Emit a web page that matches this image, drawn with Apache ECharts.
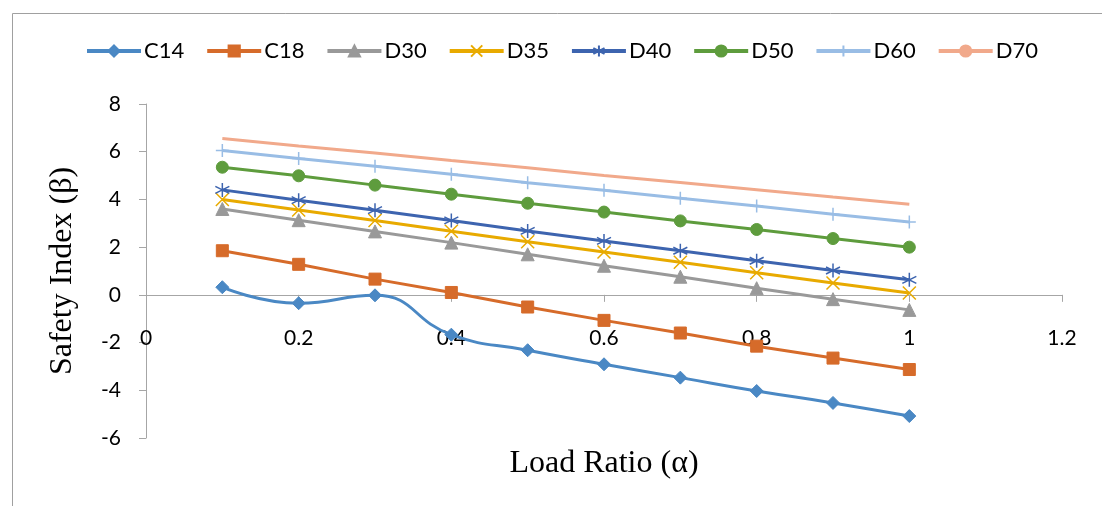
<!DOCTYPE html>
<html>
<head>
<meta charset="utf-8">
<title>Safety Index vs Load Ratio</title>
<script src="https://cdn.jsdelivr.net/npm/echarts@6/dist/echarts.min.js"></script>
<style>
  html, body { margin: 0; padding: 0; background: #fff; }
  #chart { width: 1102px; height: 506px; }
</style>
</head>
<body>
<div id="chart"></div>
<script>
// Load ratio values (α) shared by all series
const loadRatio = [0.1, 0.2, 0.3, 0.4, 0.5, 0.6, 0.7, 0.8, 0.9, 1.0];

// Safety index (β) for each timber strength class
const C14 = [0.32, -0.35, -0.02, -1.67, -2.32, -2.91, -3.47, -4.03, -4.53, -5.08];
const C18 = [1.85, 1.28, 0.66, 0.10, -0.51, -1.07, -1.60, -2.15, -2.65, -3.13];
const D30 = [3.60, 3.13, 2.66, 2.19, 1.70, 1.22, 0.76, 0.28, -0.18, -0.63];
const D35 = [4.00, 3.56, 3.12, 2.67, 2.23, 1.80, 1.37, 0.93, 0.50, 0.08];
const D40 = [4.40, 3.97, 3.55, 3.12, 2.68, 2.26, 1.85, 1.43, 1.02, 0.63];
const D50 = [5.35, 4.99, 4.60, 4.22, 3.84, 3.47, 3.10, 2.74, 2.36, 2.00];
const D60 = [6.05, 5.72, 5.39, 5.06, 4.70, 4.38, 4.05, 3.72, 3.38, 3.05];
const D70 = [6.55, 6.24, 5.95, 5.63, 5.33, 5.00, 4.71, 4.41, 4.10, 3.80];

// Axis ticks
const xTicks = { min: 0, max: 1.2, step: 0.2 };
const yTicks = { min: -6, max: 8, step: 2 };

const seriesDefs = [
  { name: 'C14', values: C14, color: '#4A88C4', symbol: 'diamond', size: 13, smooth: true },
  { name: 'C18', values: C18, color: '#D66B2A', symbol: 'rect', size: 12 },
  { name: 'D30', values: D30, color: '#999999', symbol: 'triangle', size: 13 },
  { name: 'D35', values: D35, color: '#E8AA00', symbol: 'path://M0,0L10,10M0,10L10,0', size: 13, stroke: true },
  { name: 'D40', values: D40, color: '#3D64AF', symbol: 'path://M5,0L5,10M0.7,2.5L9.3,7.5M0.7,7.5L9.3,2.5', size: 14, stroke: true },
  { name: 'D50', values: D50, color: '#5E9C3D', symbol: 'circle', size: 12 },
  { name: 'D60', values: D60, color: '#99BDE5', symbol: 'path://M5,0L5,10M0,5L10,5', size: 13, stroke: true },
  { name: 'D70', values: D70, color: '#F1A98B', symbol: 'none', size: 0 }
];

const tickFont = 'Lato';
const titleFont = '"Liberation Serif", "Times New Roman", serif';
const axisGray = '#A6A6A6';

const chart = echarts.init(document.getElementById('chart'), null, { renderer: 'canvas' });

chart.setOption({
  animation: false,
  backgroundColor: '#ffffff',
  graphic: [{
    type: 'rect',
    left: 10, top: 11,
    shape: { width: 1200, height: 600 },
    style: { fill: 'none', stroke: '#A0A0A0', lineWidth: 1 },
    silent: true
  }],
  legend: {
    top: 40,
    left: 85,
    padding: 0,
    itemWidth: 54,
    itemHeight: 14,
    itemGap: 21,
    lineStyle: { width: 4 },
    textStyle: { fontFamily: tickFont, fontSize: 22, color: '#000', padding: [0, 0, 0, -2] },
    data: seriesDefs.map(s => s.name)
  },
  grid: { left: 146, right: 40, top: 104, bottom: 68, containLabel: false, outerBoundsMode: 'none' },
  xAxis: {
    type: 'value',
    min: xTicks.min, max: xTicks.max, interval: xTicks.step,
    name: 'Load Ratio (α)',
    nameLocation: 'middle',
    nameGap: 10,
    nameTextStyle: { fontFamily: titleFont, fontSize: 32, color: '#000' },
    axisLine: { show: true, onZero: true, lineStyle: { color: axisGray, width: 1 } },
    axisTick: { show: true, length: 7, lineStyle: { color: axisGray } },
    axisLabel: {
      margin: -110, fontFamily: tickFont, fontSize: 21, color: '#000',
      formatter: v => String(Math.round(v * 10) / 10)
    },
    splitLine: { show: false }
  },
  yAxis: {
    type: 'value',
    min: yTicks.min, max: yTicks.max, interval: yTicks.step,
    name: 'Safety Index (β)',
    nameLocation: 'middle',
    nameGap: 67,
    nameTextStyle: { fontFamily: titleFont, fontSize: 32, color: '#000' },
    axisLine: { show: true, onZero: false, lineStyle: { color: axisGray, width: 1 } },
    axisTick: { show: true, length: 7, lineStyle: { color: axisGray } },
    axisLabel: { margin: 25, fontFamily: tickFont, fontSize: 21, color: '#000' },
    splitLine: { show: false }
  },
  series: seriesDefs.map(s => ({
    name: s.name,
    type: 'line',
    data: loadRatio.map((x, i) => [x, s.values[i]]),
    smooth: s.smooth ? 0.5 : false,
    symbol: s.symbol,
    symbolSize: s.size,
    showSymbol: s.symbol !== 'none',
    lineStyle: { color: s.color, width: 3 },
    itemStyle: s.stroke
      ? { color: s.color, borderColor: s.color, borderWidth: 1.5 }
      : { color: s.color, borderColor: s.color, borderWidth: 1 },
    emphasis: { disabled: true },
    z: 2
  }))
});
</script>
</body>
</html>
